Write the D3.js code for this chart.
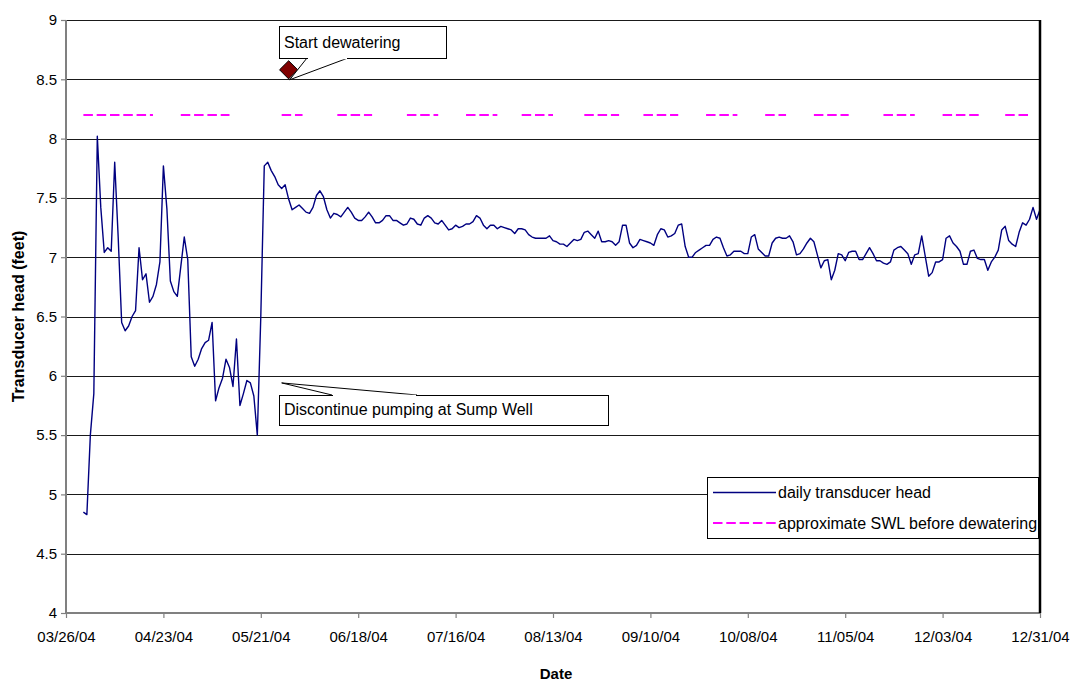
<!DOCTYPE html>
<html>
<head>
<meta charset="utf-8">
<script src="https://cdn.jsdelivr.net/npm/d3@7/dist/d3.min.js"></script>
<style>
  html, body { margin: 0; padding: 0; background: #fff; }
  svg { display: block; font-family: "Liberation Sans", Arial, sans-serif; }
</style>
</head>
<body>
<svg id="chart" width="1073" height="681"></svg>
<script>
// ---------------- DATA ----------------
const headStart = "2004-03-31";   // first daily reading
const headValues = [
  4.85,4.83,5.50,5.85,8.02,7.42,7.04,7.08,7.05,7.80,
  7.17,6.45,6.38,6.42,6.50,6.55,7.08,6.81,6.86,6.62,
  6.67,6.77,6.96,7.77,7.41,6.80,6.71,6.67,6.92,7.17,
  6.98,6.16,6.08,6.14,6.23,6.28,6.30,6.45,5.79,5.90,
  5.98,6.14,6.07,5.91,6.31,5.75,5.85,5.96,5.94,5.83,
  5.50,6.50,7.77,7.80,7.73,7.68,7.61,7.58,7.61,7.49,
  7.40,7.42,7.44,7.41,7.38,7.37,7.42,7.52,7.56,7.51,
  7.40,7.33,7.37,7.36,7.34,7.38,7.42,7.38,7.33,7.31,
  7.31,7.34,7.38,7.34,7.29,7.29,7.31,7.35,7.35,7.31,
  7.31,7.29,7.27,7.28,7.33,7.32,7.28,7.27,7.33,7.35,
  7.33,7.29,7.28,7.31,7.27,7.23,7.24,7.27,7.25,7.26,
  7.28,7.28,7.30,7.35,7.33,7.27,7.24,7.27,7.27,7.24,
  7.26,7.25,7.24,7.23,7.20,7.24,7.24,7.23,7.19,7.17,
  7.16,7.16,7.16,7.16,7.18,7.14,7.13,7.11,7.11,7.09,
  7.12,7.15,7.14,7.15,7.21,7.22,7.19,7.16,7.22,7.13,
  7.13,7.14,7.13,7.10,7.13,7.27,7.27,7.12,7.08,7.10,
  7.15,7.14,7.13,7.12,7.10,7.19,7.24,7.23,7.17,7.18,
  7.20,7.27,7.28,7.09,7.00,7.00,7.04,7.06,7.08,7.10,
  7.10,7.15,7.17,7.16,7.08,7.01,7.02,7.05,7.05,7.05,
  7.03,7.03,7.17,7.19,7.07,7.04,7.01,7.01,7.12,7.16,
  7.17,7.16,7.16,7.18,7.13,7.02,7.03,7.07,7.12,7.16,
  7.13,7.02,6.91,6.97,6.98,6.81,6.89,7.03,7.02,6.97,
  7.04,7.05,7.05,6.98,6.98,7.03,7.08,7.03,6.97,6.97,
  6.95,6.94,6.96,7.06,7.08,7.09,7.06,7.03,6.94,7.02,
  7.03,7.18,7.01,6.84,6.87,6.96,6.96,6.98,7.16,7.18,
  7.12,7.09,7.05,6.94,6.94,7.05,7.06,6.99,6.98,6.98,
  6.89,6.96,7.00,7.06,7.23,7.26,7.14,7.11,7.09,7.21,
  7.29,7.27,7.32,7.42,7.32,7.40
];

const swlValue = 8.2;
const swlStarts = ["2004-03-31","2004-04-28","2004-05-27","2004-06-12","2004-07-02","2004-07-19","2004-08-04","2004-08-22","2004-09-08","2004-09-26","2004-10-13","2004-10-27","2004-11-16","2004-12-03","2004-12-21"];
const swlEnds   = ["2004-04-20","2004-05-12","2004-06-02","2004-06-22","2004-07-11","2004-07-28","2004-08-13","2004-09-01","2004-09-18","2004-10-05","2004-10-19","2004-11-06","2004-11-25","2004-12-14","2004-12-28"];

const dewaterDate = "2004-05-29";
const dewaterValue = 8.58;
const discontinueDate = "2004-05-27";
const discontinueValue = 5.94;

const xTickLabels = ["03/26/04","04/23/04","05/21/04","06/18/04","07/16/04","08/13/04","09/10/04","10/08/04","11/05/04","12/03/04","12/31/04"];
const yTickValues = [4,4.5,5,5.5,6,6.5,7,7.5,8,8.5,9];

const seriesNames = ["daily transducer head","approximate SWL before dewatering"];
const annotationTexts = ["Start dewatering","Discontinue pumping at Sump Well"];
const xTitle = "Date";
const yTitle = "Transducer head  (feet)";

// ---------------- CHART ----------------
const svg = d3.select("#chart");
const parseISO = d3.utcParse("%Y-%m-%d");
const parseTick = d3.utcParse("%m/%d/%y");

const plot = {left: 66, right: 1040, top: 20, bottom: 613};

const xTicks = xTickLabels.map(parseTick);
const x = d3.scaleUtc()
  .domain([xTicks[0], xTicks[xTicks.length - 1]])
  .range([plot.left, plot.right]);
const y = d3.scaleLinear().domain([4, 9]).range([plot.bottom, plot.top]);

const t0 = parseISO(headStart);
const headData = headValues.map((v, i) => ({date: d3.utcDay.offset(t0, i), value: v}));

// gridlines
svg.append("g").selectAll("line").data(yTickValues.filter(v => v > 4)).join("line")
  .attr("x1", plot.left).attr("x2", plot.right)
  .attr("y1", d => Math.round(y(d)) + 0.5).attr("y2", d => Math.round(y(d)) + 0.5)
  .attr("stroke", "#1a1a1a").attr("stroke-width", 1);

// SWL segments
const swlColor = "#ff00ff";
svg.append("g").selectAll("line").data(swlStarts.map((s, i) => [parseISO(s), parseISO(swlEnds[i])])).join("line")
  .attr("x1", d => x(d[0])).attr("x2", d => x(d[1]))
  .attr("y1", y(swlValue)).attr("y2", y(swlValue))
  .attr("stroke", swlColor).attr("stroke-width", 2)
  .attr("stroke-dasharray", "9.5,3.8");

// main line
const lineColor = "#000080";
svg.append("path").datum(headData)
  .attr("fill", "none").attr("stroke", lineColor).attr("stroke-width", 1.4)
  .attr("stroke-linejoin", "round")
  .attr("d", d3.line().x(d => x(d.date)).y(d => y(d.value)));

// dewatering marker (diamond)
const dx = x(parseISO(dewaterDate)), dy = y(dewaterValue);
svg.append("path")
  .attr("d", d3.symbol().type(d3.symbolDiamond2).size(210)())
  .attr("transform", `translate(${dx},${dy})`)
  .attr("fill", "#800000").attr("stroke", "#000").attr("stroke-width", 1);

// callouts
function callout(box, tip, wedge, text) {
  const g = svg.append("g");
  const edgeY = wedge.edge === "bottom" ? box.y + box.h : box.y;
  g.append("path")
    .attr("d", `M${wedge.a},${edgeY} L${tip[0]},${tip[1]} L${wedge.b},${edgeY}`)
    .attr("fill", "#fff").attr("stroke", "#000").attr("stroke-width", 1);
  g.append("rect")
    .attr("x", box.x + 0.5).attr("y", box.y + 0.5).attr("width", box.w).attr("height", box.h)
    .attr("fill", "#fff").attr("stroke", "#000").attr("stroke-width", 1);
  g.append("line")
    .attr("x1", wedge.a + 1).attr("x2", wedge.b - 1)
    .attr("y1", edgeY + 0.5).attr("y2", edgeY + 0.5)
    .attr("stroke", "#fff").attr("stroke-width", 1.5);
  g.append("text").attr("x", box.x + 5).attr("y", box.y + box.h - 10)
    .attr("font-size", 16).attr("fill", "#000").text(text);
}
callout({x: 279, y: 26, w: 167, h: 32}, [dx + 1, dy + 10], {edge: "bottom", a: 307, b: 348}, annotationTexts[0]);
callout({x: 279, y: 395, w: 329, h: 30},
  [x(parseISO(discontinueDate)), y(discontinueValue)], {edge: "top", a: 332, b: 417}, annotationTexts[1]);

// legend
const lg = svg.append("g");
lg.append("rect").attr("x", 707.5).attr("y", 477.5).attr("width", 331).attr("height", 61)
  .attr("fill", "#fff").attr("stroke", "#000").attr("stroke-width", 1);
lg.append("line").attr("x1", 713).attr("x2", 776).attr("y1", 492.5).attr("y2", 492.5)
  .attr("stroke", lineColor).attr("stroke-width", 1.4);
lg.append("text").attr("x", 778).attr("y", 498).attr("font-size", 16).text(seriesNames[0]);
lg.append("line").attr("x1", 713).attr("x2", 776).attr("y1", 523).attr("y2", 523)
  .attr("stroke", swlColor).attr("stroke-width", 2).attr("stroke-dasharray", "9.5,3.8");
lg.append("text").attr("x", 778).attr("y", 529).attr("font-size", 16).text(seriesNames[1]);

// axes
const axisColor = "#808080";
const yAxis = svg.append("g").attr("transform", `translate(${plot.left},0)`)
  .call(d3.axisLeft(y).tickValues(yTickValues).tickFormat(d => String(d)).tickSize(5).tickPadding(4));
const xAxis = svg.append("g").attr("transform", `translate(0,${plot.bottom})`)
  .call(d3.axisBottom(x).tickValues(xTicks).tickFormat((d, i) => xTickLabels[i]).tickSize(5).tickPadding(13));
[yAxis, xAxis].forEach(a => {
  a.select(".domain").attr("stroke", axisColor).attr("stroke-width", 2);
  a.selectAll(".tick line").attr("stroke", axisColor).attr("stroke-width", 1.2);
  a.selectAll(".tick text").attr("font-size", 15).attr("fill", "#000")
    .attr("font-family", "'Liberation Sans', Arial, sans-serif");
});
xAxis.select(".domain").attr("d", `M${plot.left},0H${plot.right}`);
yAxis.select(".domain").attr("d", `M0,${plot.bottom}V${plot.top}`);

// right border
svg.append("line").attr("x1", plot.right).attr("x2", plot.right)
  .attr("y1", plot.top).attr("y2", plot.bottom)
  .attr("stroke", "#000").attr("stroke-width", 2.5);

// titles
svg.append("text").attr("x", 556).attr("y", 679).attr("text-anchor", "middle")
  .attr("font-size", 15).attr("font-weight", "bold").text(xTitle);
svg.append("text").attr("transform", `translate(24,${(plot.top + plot.bottom) / 2}) rotate(-90)`)
  .attr("text-anchor", "middle").attr("font-size", 16).attr("font-weight", "bold").text(yTitle);
</script>
</body>
</html>
